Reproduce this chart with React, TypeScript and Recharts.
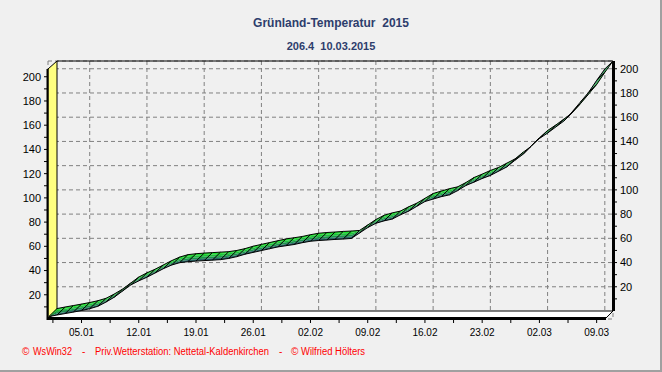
import React from "react";
import { Area, CartesianGrid, ComposedChart, Line, XAxis, YAxis } from "recharts";

// Grünland-Temperatursumme 2015, one value per day: 01.01. = day 0 ... 10.03. = day 68
const cumTemp = [
  2, 3.3, 4.5, 5.7, 7, 8.5, 10.5, 14, 18, 23,
  28, 31.5, 34.5, 38, 41.5, 44.5, 46.5, 47.3, 47.8, 48.2,
  48.6, 49, 50, 51.5, 53.5, 55, 56.5, 58, 59.5, 60.5,
  61.5, 63, 64.2, 64.8, 65.2, 65.7, 66, 66.5, 71, 75.5,
  79, 81, 82.5, 86, 89, 93, 97, 99, 101, 102.5,
  106, 110.2, 113, 116, 118.5, 122, 125.5, 131, 136, 143,
  149, 153.5, 158.5, 163.5, 171, 179, 187, 197, 206.4,
];

const dateLabels = ["05.01", "12.01", "19.01", "26.01", "02.02", "09.02", "16.02", "23.02", "02.03", "09.03"];
const dateLabelDays = [4, 11, 18, 25, 32, 39, 46, 53, 60, 67];
const minorDayTicks = [0.5, 7.5, 14.5, 21.5, 28.5, 35.5, 42.5, 49.5, 56.5, 63.5];
const valueLabels = [20, 40, 60, 80, 100, 120, 140, 160, 180, 200];
const minorValueTicks = [10, 30, 50, 70, 90, 110, 130, 150, 170, 190];

const W = 662;
const H = 372;

// plot box = back wall plus the 3D depth (front plane sits left/below the back wall)
const PLOT = { left: 48, right: 613, top: 61, bottom: 319 };
const BACK_LEFT = 57;
const BACK_BOTTOM = 311;
const Y_TOP = 206.4;
const LAST_DAY = cumTemp.length - 1;
const DAY_PX = (PLOT.right - BACK_LEFT) / LAST_DAY;
const UNIT_PX = (BACK_BOTTOM - PLOT.top) / Y_TOP;
const DEPTH_Y = PLOT.bottom - BACK_BOTTOM;
const DEPTH_UNITS = DEPTH_Y / UNIT_PX;

const backXDomain = [-(BACK_LEFT - PLOT.left) / DAY_PX, LAST_DAY];
const frontXDomain = [backXDomain[0] + 1, LAST_DAY + 1];
const backYDomain = [-DEPTH_UNITS, Y_TOP];
const frontYDomain = [0, Y_TOP + DEPTH_UNITS];

const dayTicks = [...dateLabelDays, ...minorDayTicks].sort((a, b) => a - b);
const valueTicks = [...valueLabels, ...minorValueTicks].sort((a, b) => a - b);

// ribbon rows: back edge value and the front edge as seen at the same back x position
const rows = [-1, ...cumTemp.map((_, i) => i)].map((day) => {
  const back = day >= 0 ? cumTemp[day] : null;
  const front = day + 1 <= LAST_DAY ? cumTemp[day + 1] - DEPTH_UNITS : cumTemp[day];
  const hi = back ?? front;
  const at = (t: number) => hi + (front - hi) * t;
  return {
    day,
    v: back,
    b0: [at(0.25), at(0)],
    b1: [at(0.5), at(0.25)],
    b2: [at(0.75), at(0.5)],
    b3: [at(1), at(0.75)],
  };
});

const bandColors = ["#22e030", "#1ec23c", "#1c954c", "#2a6466"];

const fontFamily = "'Liberation Sans', Arial, sans-serif";
const tickFont = { fontSize: 11, fill: "#000", fontFamily };

const dateFormatter = (d: number) => {
  const i = dateLabelDays.indexOf(d);
  return i >= 0 ? dateLabels[i] : "";
};
const valueFormatter = (v: number) => (valueLabels.includes(v) ? String(v) : "");

function Hatch(props: any) {
  const { cx, cy, index } = props;
  if (cx == null || cy == null || Number.isNaN(cy)) return <g key={`h${index}`} />;
  return (
    <line
      key={`h${index}`}
      x1={cx}
      y1={cy}
      x2={cx - DAY_PX}
      y2={cy + DEPTH_Y}
      stroke="#000"
      strokeWidth={1}
    />
  );
}

function Frame() {
  return (
    <svg width={W} height={H} style={{ position: "absolute", left: 0, top: 0 }}>
      <polygon
        points={`${PLOT.left},${PLOT.top + DEPTH_Y} ${BACK_LEFT},${PLOT.top} ${BACK_LEFT},${BACK_BOTTOM} ${PLOT.left},${PLOT.bottom}`}
        fill="#ffff80"
        stroke="#000"
      />
      <polygon
        points={`${PLOT.left},${PLOT.bottom} ${BACK_LEFT},${BACK_BOTTOM} ${PLOT.right},${BACK_BOTTOM} ${PLOT.right - 8},${PLOT.bottom}`}
        fill="#fff"
        stroke="#000"
      />
      <line x1={BACK_LEFT} y1={PLOT.top} x2={PLOT.right} y2={PLOT.top} stroke="#000" />
      <line x1={PLOT.right + 0.5} y1={PLOT.top} x2={PLOT.right + 0.5} y2={BACK_BOTTOM} stroke="#000" strokeWidth={3} />
      <line x1={PLOT.left - 0.5} y1={PLOT.top + DEPTH_Y} x2={PLOT.left - 0.5} y2={PLOT.bottom + 1} stroke="#000" strokeWidth={2} />
      <line x1={PLOT.left - 1} y1={PLOT.bottom - 0.5} x2={PLOT.right - 7} y2={PLOT.bottom - 0.5} stroke="#000" strokeWidth={3} />

      <text x={331} y={27} textAnchor="middle" fontFamily={fontFamily} fontWeight="bold" fontSize={12} fill="#2d3d6c">
        Grünland-Temperatur{"\u00a0\u00a0"}2015
      </text>
      <text x={331} y={50} textAnchor="middle" fontFamily={fontFamily} fontWeight="bold" fontSize={11} fill="#2d3d6c">
        206.4{"\u00a0\u00a0"}10.03.2015
      </text>

      <g fontFamily={fontFamily} fontSize={10} fill="#ff0000">
        <text x={22} y={355}>©</text>
        <text x={33} y={355} textLength={39} lengthAdjust="spacingAndGlyphs">WsWin32</text>
        <text x={82} y={355}>-</text>
        <text x={95} y={355} textLength={174} lengthAdjust="spacingAndGlyphs">Priv.Wetterstation: Nettetal-Kaldenkirchen</text>
        <text x={279} y={355}>-</text>
        <text x={291} y={355}>©</text>
        <text x={301} y={355} textLength={64} lengthAdjust="spacingAndGlyphs">Wilfried Hölters</text>
      </g>
      <rect x={660} y={0} width={2} height={H} fill="#a0a0a0" />
      <rect x={0} y={370} width={W} height={2} fill="#a0a0a0" />
    </svg>
  );
}

export default function App() {
  return (
    <div style={{ position: "absolute", left: 0, top: 0, width: W, height: H, background: "#f0f0f0" }}>
      {/* back wall grid and the axes */}
      <div style={{ position: "absolute", left: 0, top: 0 }}>
        <ComposedChart width={W} height={H} data={rows} margin={{ top: PLOT.top, right: 0, bottom: 0, left: 0 }}>
          <XAxis
            xAxisId="f"
            dataKey="day"
            type="number"
            domain={frontXDomain}
            allowDataOverflow
            ticks={dayTicks}
            interval={0}
            tickFormatter={dateFormatter}
            height={H - PLOT.bottom}
            axisLine={false}
            tickLine={{ stroke: "#000" }}
            tickSize={4}
            tickMargin={6}
            tick={{ ...tickFont, fontSize: 10 }}
          />
          <YAxis
            yAxisId="f"
            orientation="left"
            type="number"
            domain={frontYDomain}
            allowDataOverflow
            ticks={valueTicks}
            interval={0}
            tickFormatter={valueFormatter}
            width={PLOT.left}
            axisLine={false}
            tickLine={{ stroke: "#000" }}
            tickSize={4}
            tickMargin={3}
            tick={tickFont}
          />
          <YAxis
            yAxisId="b"
            orientation="right"
            type="number"
            domain={backYDomain}
            allowDataOverflow
            ticks={valueTicks}
            interval={0}
            tickFormatter={valueFormatter}
            width={W - PLOT.right}
            axisLine={false}
            tickLine={{ stroke: "#000" }}
            tickSize={4}
            tickMargin={3}
            tick={tickFont}
          />
          <XAxis
            xAxisId="b"
            dataKey="day"
            type="number"
            domain={backXDomain}
            allowDataOverflow
            ticks={dateLabelDays}
            height={0}
            hide
          />
          <YAxis
            yAxisId="grid"
            orientation="right"
            type="number"
            domain={backYDomain}
            allowDataOverflow
            ticks={valueLabels}
            width={0}
            hide
          />
          <CartesianGrid xAxisId="b" yAxisId="grid" stroke="#808080" strokeDasharray="4 3" />
        </ComposedChart>
      </div>

      <Frame />

      {/* the 3D ribbon */}
      <div style={{ position: "absolute", left: 0, top: 0 }}>
        <ComposedChart
          width={W}
          height={H}
          data={rows}
          margin={{ top: PLOT.top, right: W - PLOT.right, bottom: H - PLOT.bottom, left: PLOT.left }}
        >
          <XAxis xAxisId="b" dataKey="day" type="number" domain={backXDomain} allowDataOverflow height={0} hide />
          <XAxis xAxisId="f" dataKey="day" type="number" domain={frontXDomain} allowDataOverflow height={0} hide />
          <YAxis yAxisId="b" type="number" domain={backYDomain} allowDataOverflow width={0} hide />
          <YAxis yAxisId="f" type="number" domain={frontYDomain} allowDataOverflow width={0} hide />
          {["b0", "b1", "b2", "b3"].map((key, i) => (
            <Area
              key={key}
              xAxisId="b"
              yAxisId="b"
              type="linear"
              dataKey={key}
              stroke="none"
              fill={bandColors[i]}
              fillOpacity={1}
              isAnimationActive={false}
              activeDot={false}
            />
          ))}
          <Line
            xAxisId="f"
            yAxisId="f"
            type="linear"
            dataKey="v"
            stroke="#000"
            strokeWidth={1}
            dot={false}
            activeDot={false}
            isAnimationActive={false}
          />
          <Line
            xAxisId="b"
            yAxisId="b"
            type="linear"
            dataKey="v"
            stroke="#000"
            strokeWidth={1}
            dot={(p: any) => <Hatch {...p} />}
            activeDot={false}
            isAnimationActive={false}
          />
        </ComposedChart>
      </div>
    </div>
  );
}
